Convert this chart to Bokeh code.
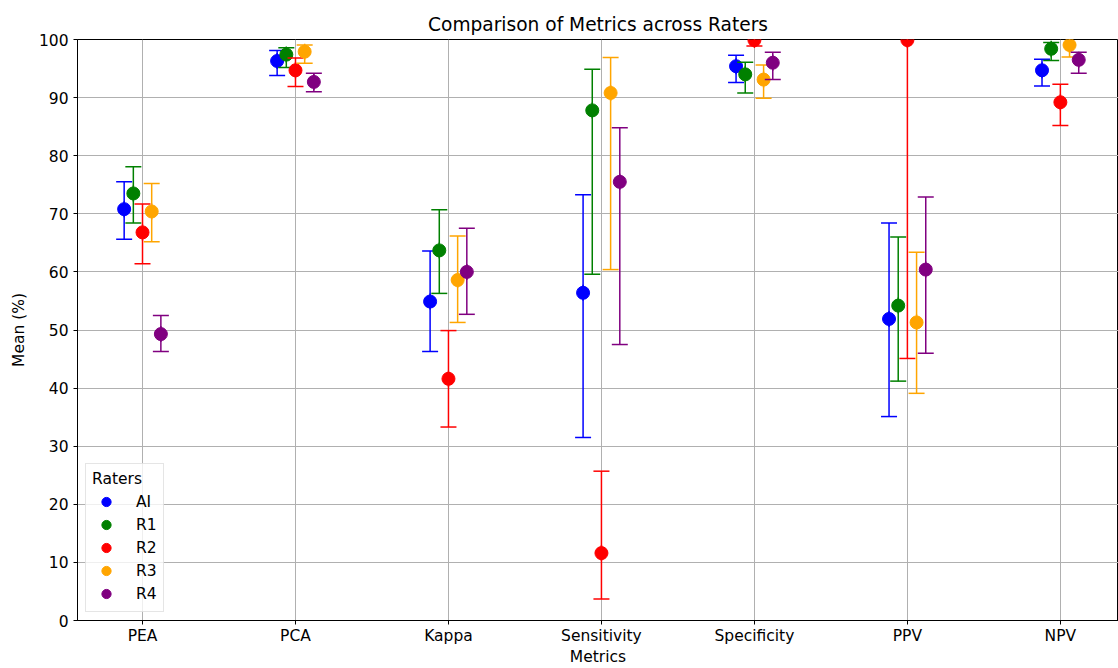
import math
from bokeh.plotting import figure
from bokeh.models import (Range1d, FixedTicker, ColumnDataSource, Legend, LegendItem)
from bokeh.embed import file_html
from bokeh.resources import INLINE

metrics = ["PEA", "PCA", "Kappa", "Sensitivity", "Specificity", "PPV", "NPV"]
raters = ["AI", "R1", "R2", "R3", "R4"]
colors = ["blue", "green", "red", "orange", "purple"]

mean_AI = [70.8, 96.3, 54.9, 56.4, 95.4, 51.9, 94.7]
low_AI = [65.6, 93.8, 46.3, 31.5, 92.6, 35.1, 92.0]
up_AI = [75.5, 98.1, 63.6, 73.3, 97.3, 68.4, 96.6]

mean_R1 = [73.5, 97.4, 63.7, 87.8, 94.0, 54.2, 98.4]
low_R1 = [68.4, 95.2, 56.3, 59.6, 90.8, 41.2, 96.4]
up_R1 = [78.1, 98.6, 70.7, 94.9, 96.1, 66.0, 99.5]

mean_R2 = [66.8, 94.7, 41.6, 11.6, 99.9, 99.9, 89.2]
low_R2 = [61.4, 91.9, 33.3, 3.7, 98.9, 45.1, 85.2]
up_R2 = [71.7, 96.8, 49.9, 25.7, 100.9, 154.7, 92.3]

mean_R3 = [70.4, 97.9, 58.6, 90.8, 93.1, 51.3, 99.05]
low_R3 = [65.2, 95.9, 51.3, 60.4, 89.9, 39.1, 97.0]
up_R3 = [75.2, 99.05, 66.2, 96.9, 95.6, 63.4, 100.9]

mean_R4 = [49.3, 92.7, 60.0, 75.5, 96.0, 60.4, 96.5]
low_R4 = [46.3, 91.0, 52.7, 47.5, 93.1, 46.0, 94.2]
up_R4 = [52.5, 94.2, 67.5, 84.8, 97.8, 72.9, 97.8]

means = [mean_AI, mean_R1, mean_R2, mean_R3, mean_R4]
lows = [low_AI, low_R1, low_R2, low_R3, low_R4]
ups = [up_AI, up_R1, up_R2, up_R3, up_R4]

FONT = "DejaVu Sans"
FS = "15.5px"

p = figure(width=1118, height=668, output_backend="svg", toolbar_location=None,
           x_range=Range1d(-0.425, 6.38), y_range=Range1d(0, 100),
           min_border_left=77, min_border_right=0, min_border_top=39, min_border_bottom=47,
           title="Comparison of Metrics across Raters")

p.title.align = "center"
p.title.text_font = FONT
p.title.text_font_size = "18.6px"
p.title.text_font_style = "normal"
p.title.text_color = "black"

p.outline_line_color = "black"
p.outline_line_width = 1
p.outline_line_alpha = 1

xt = list(range(len(metrics)))
p.xaxis.ticker = FixedTicker(ticks=xt)
p.xaxis.major_label_overrides = {i: m for i, m in enumerate(metrics)}
p.yaxis.ticker = FixedTicker(ticks=list(range(0, 101, 10)))
p.xgrid.ticker = FixedTicker(ticks=xt)

for ax in (p.xaxis[0], p.yaxis[0]):
    ax.axis_line_color = "black"
    ax.major_tick_line_color = "black"
    ax.major_tick_in = 0
    ax.major_tick_out = 4
    ax.minor_tick_line_color = None
    ax.major_label_text_font = FONT
    ax.major_label_text_font_size = FS
    ax.major_label_text_color = "black"
    ax.axis_label_text_font = FONT
    ax.axis_label_text_font_size = FS
    ax.axis_label_text_font_style = "normal"
    ax.axis_label_text_color = "black"
p.xaxis.axis_label = "Metrics"
p.yaxis.axis_label = "Mean (%)"
p.xaxis.axis_label_standoff = 0
p.yaxis.axis_label_standoff = 8
p.xaxis.major_label_standoff = 2

for g in (p.xgrid[0], p.ygrid[0]):
    g.grid_line_color = "#b0b0b0"
    g.grid_line_width = 1

items = []
for j, (r, c) in enumerate(zip(raters, colors)):
    xs = [i + (j - 2) * 0.06 for i in xt]
    src = ColumnDataSource(dict(x=xs, m=means[j], lo=lows[j], up=ups[j]))
    p.segment(x0="x", y0="lo", x1="x", y1="up", source=src, line_color=c, line_width=1.5)
    p.scatter(x="x", y="lo", source=src, marker="dash", size=16, line_color=c, line_width=1.5)
    p.scatter(x="x", y="up", source=src, marker="dash", size=16, line_color=c, line_width=1.5)
    bar = p.scatter(x="x", y="m", source=src, marker="dash", angle=math.pi / 2, size=16,
                    line_color=c, line_width=1.5)
    rr = p.scatter(x="x", y="m", source=src, marker="circle", size=13, fill_color=c, line_color=c)
    items.append(LegendItem(label=r, renderers=[bar, rr]))

legend = Legend(items=items, location="bottom_left", title="Raters")
legend.margin = 8
legend.padding = 6
legend.glyph_width = 28
legend.glyph_height = 23
legend.label_height = 20
legend.spacing = 0
legend.label_standoff = 16
legend.title_standoff = 2
legend.label_text_font = FONT
legend.label_text_font_size = FS
legend.label_text_color = "black"
legend.title_text_font = FONT
legend.title_text_font_size = FS
legend.title_text_font_style = "normal"
legend.title_text_color = "black"
legend.border_line_color = "#cccccc"
legend.border_line_width = 1
legend.background_fill_alpha = 0.8
p.add_layout(legend)

open("out.html", "w").write(file_html(p, INLINE))
